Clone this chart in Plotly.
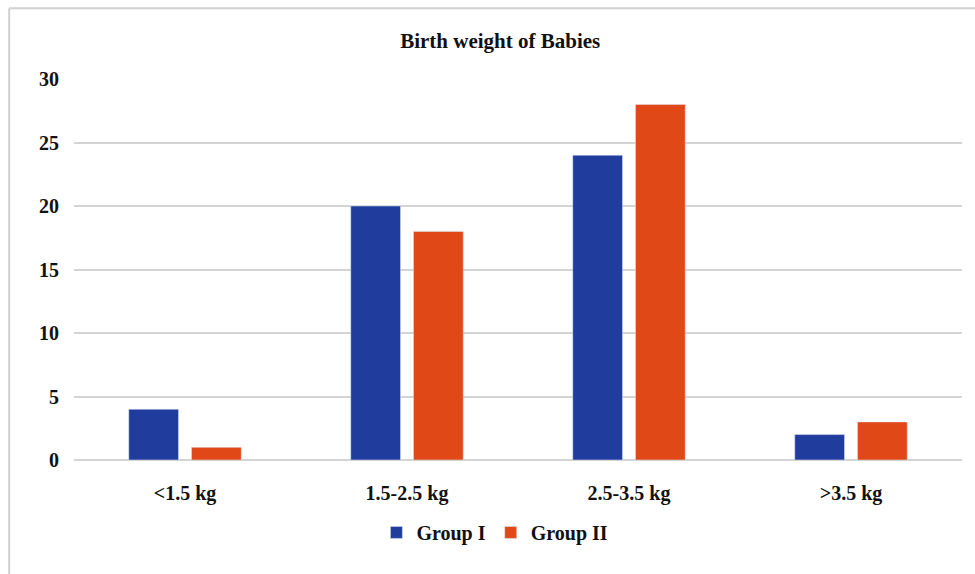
import plotly.graph_objects as go

categories = ["<1.5 kg", "1.5-2.5 kg", "2.5-3.5 kg", ">3.5 kg"]
group_1 = [4, 20, 24, 2]
group_2 = [1, 18, 28, 3]
y_ticks = [0, 5, 10, 15, 20, 25, 30]

FONT = "Liberation Serif"
BLUE = "#203C9C"
ORANGE = "#E04818"
INK = "#111111"

fig = go.Figure()
fig.add_trace(go.Bar(name="<b>Group I</b>", x=categories, y=group_1, marker_color=BLUE))
fig.add_trace(go.Bar(name="<b>Group II</b>", x=categories, y=group_2, marker_color=ORANGE))

# outer frame: top and left edges of the chart area
fig.add_shape(type="line", xref="paper", yref="paper",
              x0=-0.073, x1=1.02, y0=1.186, y1=1.186,
              line=dict(color="#D0D0D0", width=2), layer="below")
fig.add_shape(type="line", xref="paper", yref="paper",
              x0=-0.073, x1=-0.073, y0=-0.4, y1=1.186,
              line=dict(color="#D0D0D0", width=2), layer="below")

fig.update_layout(
    width=975, height=574,
    margin=dict(l=74, r=13, t=79, b=114),
    paper_bgcolor="white", plot_bgcolor="white",
    barmode="group", bargap=0.435, bargroupgap=0.206,
    title=dict(text="<b>Birth weight of Babies</b>", x=0.513, xanchor="center",
               y=0.930, yanchor="middle",
               font=dict(family=FONT, size=21, color=INK)),
    font=dict(family=FONT, color=INK),
    xaxis=dict(tickmode="array", tickvals=categories,
               ticktext=[f"<b>{c}</b>" for c in categories],
               tickfont=dict(family=FONT, size=20, color=INK),
               showgrid=False, showline=False, ticks="", ticklabelstandoff=19),
    yaxis=dict(range=[0, 30], tickmode="array", tickvals=y_ticks,
               ticktext=[f"<b>{v}</b>" for v in y_ticks],
               tickfont=dict(family=FONT, size=20, color=INK),
               showgrid=True, gridcolor="#D4D4D4", gridwidth=2,
               zeroline=True, zerolinecolor="#D4D4D4", zerolinewidth=2,
               ticks="", ticklabelstandoff=14),
    legend=dict(orientation="h", x=0.474, xanchor="center", y=-0.19, yanchor="middle",
                font=dict(family=FONT, size=20, color=INK),
                itemwidth=30, traceorder="normal"),
)

fig.write_html("out.html")
